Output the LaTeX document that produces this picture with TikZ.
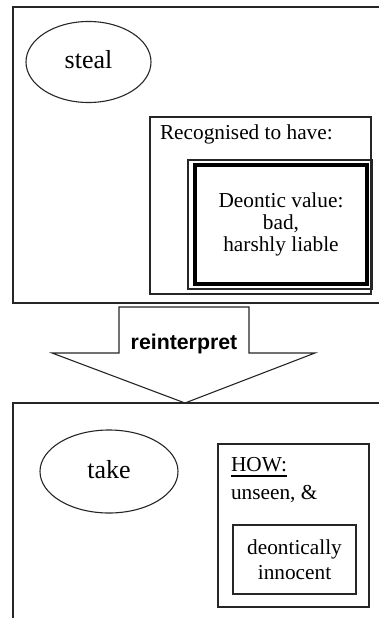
\documentclass[tikz,border=0pt]{standalone}
\usepackage{fontspec}
\setmainfont{Liberation Serif}
\newfontfamily\arialfont{Liberation Sans}
\usetikzlibrary{shapes.geometric}
\begin{document}
\begin{tikzpicture}[x=1pt,y=-1pt,
  line join=miter,
  every node/.style={outer sep=0pt},
  frame/.style={draw=black!85, line width=1.1pt, rectangle, inner sep=0pt, anchor=north west},
  oval/.style={draw=black!85, line width=1.1pt, ellipse, inner sep=0pt, font=\fontsize{26}{30}\selectfont},
  txt/.style={inner sep=0pt, font=\fontsize{21.3}{22}\selectfont},
  arrowshape/.style={draw=black!85, line width=1.1pt, fill=white}
]
\useasboundingbox (0,0) rectangle (379,618);
\clip (0,0) rectangle (379,618);
% top panel
\node[frame, minimum width=380pt, minimum height=296pt] (top) at (13,7) {};
\node[oval, minimum width=125pt, minimum height=81pt] (steal) at (88.5,62) {};
\node[txt, anchor=base] (stealt) at (88.5,69) {\fontsize{26}{30}\selectfont steal};
\node[frame, minimum width=221pt, minimum height=177pt] (rec) at (150,117) {};
\node[txt, anchor=base west] (rect) at (160,139.5) {Recognised to have:};
\node[frame, minimum width=184pt, minimum height=129pt] (dvo) at (188,160) {};
\node[draw=black, line width=4pt, rectangle, inner sep=0pt, anchor=north west,
      minimum width=172pt, minimum height=119pt] (dvi) at (195,165) {};
\node[txt, align=center] (dvt) at (281,224) {Deontic value:\\bad,\\harshly liable};
% block arrow
\coordinate (a1) at (119,307);
\coordinate (a2) at (249,307);
\coordinate (a3) at (249,353);
\coordinate (a4) at (315,353);
\coordinate (tip) at (185,403);
\coordinate (a6) at (52,353);
\coordinate (a7) at (119,353);
\draw[arrowshape] (a1) -- (a2) -- (a3) -- (a4) -- (tip) -- (a6) -- (a7) -- cycle;
\node[inner sep=0pt, anchor=base, font=\arialfont\bfseries\fontsize{21.3}{24}\selectfont] (reint) at (184,349.5) {reinterpret};
% bottom panel
\node[frame, minimum width=380pt, minimum height=240pt] (bot) at (13,403) {};
\node[oval, minimum width=138pt, minimum height=83pt] (take) at (109,471.5) {};
\node[txt, anchor=base] (taket) at (109,478) {\fontsize{26}{30}\selectfont take};
\node[frame, minimum width=151pt, minimum height=163pt] (how) at (218,444) {};
\node[txt, anchor=base west] (howt) at (231,471) {HOW:};
\draw[line width=2pt, black] ([yshift=-5pt]howt.base west) -- ([yshift=-5pt]howt.base east);
\node[txt, anchor=base west] (unseen) at (231,499) {unseen, \&};
\node[frame, minimum width=123pt, minimum height=69pt] (inno) at (233,525) {};
\node[txt, align=center, font=\fontsize{21.3}{25}\selectfont] (innot) at (294.5,560) {deontically\\innocent};
\end{tikzpicture}
\end{document}
